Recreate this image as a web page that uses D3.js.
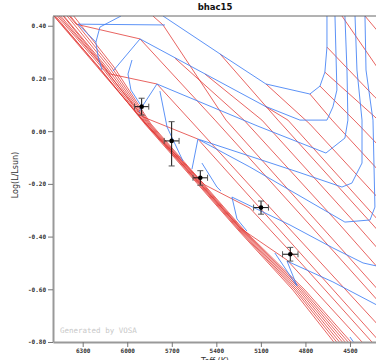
<!DOCTYPE html>
<html>
<head>
<meta charset="utf-8">
<script src="https://cdnjs.cloudflare.com/ajax/libs/d3/7.8.5/d3.min.js"></script>
<style>
  body { margin: 0; background: #fff; }
  svg { display: block; }
</style>
</head>
<body>
<div id="display"></div>
<script>
// axis ticks
const teffTicks = [6300, 6000, 5700, 5400, 5100, 4800, 4500];
const logLTicks = [0.4, 0.2, 0, -0.2, -0.4, -0.6, -0.8];

// observed object
const starTeff = [5903, 5701, 5508, 5099, 4902];
const starTeffErr = [48, 50, 49, 50, 52];
const starLogL = [0.093, -0.037, -0.177, -0.290, -0.467];
const starErrUp = [0.032, 0.073, 0.027, 0.025, 0.026];
const starErrDown = [0.032, 0.095, 0.028, 0.025, 0.026];

// evolutionary tracks (blue), [Teff, logL]
const track0 = [[6042, 0.437], [6184, 0.395], [6211, 0.338]];
const track1 = [[5746, 0.403], [6332, 0.406], [6211, 0.338], [6197, 0.285], [6170, 0.232]];
const track2 = [[4655, 0.437], [4655, 0.319], [4669, 0.224], [4702, 0.171], [4770, 0.141],
  [5066, 0.179], [5375, 0.293], [5759, 0.437]];
const track3 = [[4601, 0.437], [4588, 0.156], [4615, 0.092], [4655, 0.042], [4837, 0.042],
  [5073, 0.095], [5914, 0.350], [6096, 0.228]];
const track4 = [[4534, 0.437], [4520, 0.228], [4514, 0.042], [4534, -0.026], [4662, -0.083],
  [5120, 0.019], [5800, 0.179], [5901, 0.092], [5921, 0.073]];
const track4b = [[5968, 0.270], [5995, 0.217], [5975, 0.156], [5914, 0.103]];
const track5 = [[4466, 0.437], [4453, 0.232], [4419, 0.042], [4419, -0.121], [4487, -0.197],
  [4554, -0.212], [4850, -0.155], [5524, -0.030], [5564, -0.144]];
const track5b = [[5780, 0.152], [5732, 0.016], [5625, -0.113]];
const track6 = [[4399, 0.437], [4392, 0.232], [4345, 0.042], [4332, -0.288], [4365, -0.337],
  [4534, -0.345], [5174, -0.136], [5511, -0.034]];
const track6b = [[5497, -0.121], [5396, -0.212], [5369, -0.227]];
const track7 = [[4318, -0.512], [4412, -0.500], [4615, -0.443], [4904, -0.356], [5295, -0.250],
  [5261, -0.333], [5194, -0.379]];
const track8 = [[4318, -0.660], [4615, -0.572], [4924, -0.493], [4857, -0.587]];
const track8b = [[5006, -0.462], [4857, -0.587]];
const track9 = [[4500, -0.781], [4473, -0.803]];

// isochrones (red) that run along the main sequence
const msLogL = [0.498, 0.243, 0.027, -0.375, -0.603, -0.830];
const msTeff1 = [6587, 6190, 5881, 5254, 4884, 4567];
const msTeff2 = [6564, 6173, 5874, 5247, 4870, 4547];
const msTeff3 = [6540, 6157, 5867, 5241, 4857, 4527];
const msTeff4 = [6517, 6140, 5860, 5234, 4843, 4507];
const msTeff5 = [6493, 6123, 5854, 5227, 4830, 4487];
const msTeff6 = [6470, 6106, 5847, 5221, 4817, 4466];
const msTeff7 = [6446, 6089, 5840, 5214, 4803, 4446];

// isochrones leaving the main sequence
const iso1 = [[6480, 0.498], [6345, 0.406], [5914, 0.350], [5409, 0.042], [4770, -0.356], [4298, -0.652]];
const iso2 = [[6520, 0.498], [6190, 0.270], [6116, 0.217], [5800, 0.179], [5577, 0.042],
  [5086, -0.261], [4298, -0.743]];
const iso3 = [[6554, 0.498], [6190, 0.262], [5894, 0.054], [5524, -0.030], [5106, -0.292], [4298, -0.800]];
const iso4 = [[6574, 0.498], [5874, 0.027], [5477, -0.204], [5174, -0.292], [4837, -0.496], [4352, -0.800]];
const iso5 = [[6587, 0.498], [5874, 0.027], [5241, -0.367], [4924, -0.489], [4567, -0.709], [4419, -0.800]];
// younger isochrones
const isoA = [[5827, 0.437], [5759, 0.403], [5335, 0.042], [4702, -0.356], [4298, -0.610]];
const isoB = [[5679, 0.277], [5214, 0.042], [4567, -0.356], [4298, -0.527]];
const isoC = [[5477, 0.217], [5093, 0.042], [4453, -0.356], [4298, -0.455]];
const isoD = [[5375, 0.293], [4985, 0.042], [4345, -0.356], [4298, -0.386]];
const isoE = [[5073, 0.095], [4918, 0.042], [4298, -0.345]];
const isoF = [[5066, 0.179], [4770, 0.027], [4298, -0.261]];
const isoG = [[4770, 0.141], [4621, 0.042], [4298, -0.155]];
const isoH = [[4702, 0.171], [4446, 0.027], [4298, -0.060]];
const isoI = [[4669, 0.224], [4332, 0.054], [4298, 0.035]];
const isoJ = [[4655, 0.319], [4332, 0.129], [4298, 0.111]];
const isoK = [[4554, 0.437], [4332, 0.255], [4298, 0.228]];
const isoL = [[4399, 0.437], [4298, 0.369]];

const tracks = [track0, track1, track2, track3, track4, track4b, track5, track5b,
  track6, track6b, track7, track8, track8b, track9];
const msLines = [msTeff1, msTeff2, msTeff3, msTeff4, msTeff5, msTeff6, msTeff7]
    .map((teffs) => teffs.map((t, i) => [t, msLogL[i]]));
const isochrones = msLines.concat([iso1, iso2, iso3, iso4, iso5, isoA, isoB, isoC,
  isoD, isoE, isoF, isoG, isoH, isoI, isoJ, isoK, isoL]);

const width = 376;
const height = 360;
const margin = {top: 16, right: -1, bottom: 18, left: 53};
const plotW = width - margin.left - margin.right;
const plotH = height - margin.top - margin.bottom;

const svg = d3.select('#display').append('svg')
    .attr('width', width)
    .attr('height', height);

const x = d3.scaleLinear().domain([6500, 4318]).range([margin.left, margin.left + plotW]);
const y = d3.scaleLinear().domain([0.437, -0.80]).range([margin.top, margin.top + plotH]);

svg.append('clipPath').attr('id', 'plotclip')
    .append('rect')
    .attr('x', margin.left).attr('y', margin.top)
    .attr('width', plotW).attr('height', plotH);

const line = d3.line().x((d) => x(d[0])).y((d) => y(d[1]));

const plot = svg.append('g').attr('clip-path', 'url(#plotclip)');

plot.append('g')
    .selectAll('path')
    .data(isochrones)
    .enter()
    .append('path')
    .attr('d', line)
    .attr('fill', 'none')
    .attr('stroke', '#e0302c')
    .attr('stroke-opacity', 0.75)
    .attr('stroke-width', 1);

plot.append('g')
    .selectAll('path')
    .data(tracks)
    .enter()
    .append('path')
    .attr('d', line)
    .attr('fill', 'none')
    .attr('stroke', '#3f7ff5')
    .attr('stroke-opacity', 0.85)
    .attr('stroke-width', 1);

// error bars + points
const stars = starTeff.map((t, i) => ({
  t: t, dt: starTeffErr[i], l: starLogL[i], up: starErrUp[i], down: starErrDown[i],
}));
const pts = svg.append('g');
pts.selectAll('line.ey').data(stars).enter().append('line')
    .attr('x1', (d) => x(d.t)).attr('x2', (d) => x(d.t))
    .attr('y1', (d) => y(d.l + d.up)).attr('y2', (d) => y(d.l - d.down))
    .attr('stroke', '#111').attr('stroke-width', 1);
pts.selectAll('line.ex').data(stars).enter().append('line')
    .attr('x1', (d) => x(d.t + d.dt)).attr('x2', (d) => x(d.t - d.dt))
    .attr('y1', (d) => y(d.l)).attr('y2', (d) => y(d.l))
    .attr('stroke', '#111').attr('stroke-width', 1);
const capsY = stars.flatMap((d) => [d.l + d.up, d.l - d.down].map((v) => ({t: d.t, v: v})));
pts.selectAll('line.cy').data(capsY).enter().append('line')
    .attr('x1', (d) => x(d.t) - 3).attr('x2', (d) => x(d.t) + 3)
    .attr('y1', (d) => y(d.v)).attr('y2', (d) => y(d.v))
    .attr('stroke', '#555').attr('stroke-width', 1);
const capsX = stars.flatMap((d) => [d.t + d.dt, d.t - d.dt].map((v) => ({t: v, l: d.l})));
pts.selectAll('line.cx').data(capsX).enter().append('line')
    .attr('x1', (d) => x(d.t)).attr('x2', (d) => x(d.t))
    .attr('y1', (d) => y(d.l) - 3).attr('y2', (d) => y(d.l) + 3)
    .attr('stroke', '#555').attr('stroke-width', 1);
pts.selectAll('circle').data(stars).enter().append('circle')
    .attr('cx', (d) => x(d.t)).attr('cy', (d) => y(d.l))
    .attr('r', 2.3).attr('fill', '#000');

// axes
const tickFont = '"DejaVu Sans Mono", monospace';
const yAxis = svg.append('g')
    .attr('transform', 'translate(' + margin.left + ',0)')
    .call(d3.axisLeft(y).tickValues(logLTicks).tickSize(5).tickSizeOuter(0)
        .tickFormat((d) => d.toFixed(2)));
const xAxis = svg.append('g')
    .attr('transform', 'translate(0,' + (margin.top + plotH) + ')')
    .call(d3.axisBottom(x).tickValues(teffTicks).tickSize(5).tickSizeOuter(0)
        .tickFormat((d) => String(d)));
[yAxis, xAxis].forEach((ax) => {
  ax.select('.domain').attr('stroke', '#999').attr('stroke-width', 2);
  ax.selectAll('.tick line').attr('stroke', '#777');
  ax.selectAll('.tick text')
      .attr('font-family', tickFont)
      .attr('font-size', 6)
      .attr('font-weight', 'bold')
      .attr('fill', '#333');
});
yAxis.selectAll('.tick text').attr('x', -7);
xAxis.selectAll('.tick text').attr('y', 7);

svg.append('line')
    .attr('x1', margin.left).attr('x2', width)
    .attr('y1', margin.top).attr('y2', margin.top)
    .attr('stroke', '#666').attr('stroke-width', 1);

svg.append('text')
    .attr('x', 215).attr('y', 10)
    .attr('text-anchor', 'middle')
    .attr('font-family', '"DejaVu Sans", sans-serif')
    .attr('font-weight', 'bold')
    .attr('font-size', 8.5)
    .attr('fill', '#111')
    .text('bhac15');

svg.append('text')
    .attr('transform', 'translate(18,175) rotate(-90)')
    .attr('text-anchor', 'middle')
    .attr('font-family', '"DejaVu Sans", sans-serif')
    .attr('font-size', 8)
    .attr('fill', '#333')
    .text('Log(L/Lsun)');

svg.append('text')
    .attr('x', 215).attr('y', 364)
    .attr('text-anchor', 'middle')
    .attr('font-family', '"DejaVu Sans", sans-serif')
    .attr('font-size', 8)
    .attr('fill', '#333')
    .text('Teff (K)');

svg.append('text')
    .attr('x', 60).attr('y', 333)
    .attr('font-family', tickFont)
    .attr('font-size', 7.5)
    .attr('fill', '#c8c8c8')
    .text('Generated by VOSA');
</script>
</body>
</html>
